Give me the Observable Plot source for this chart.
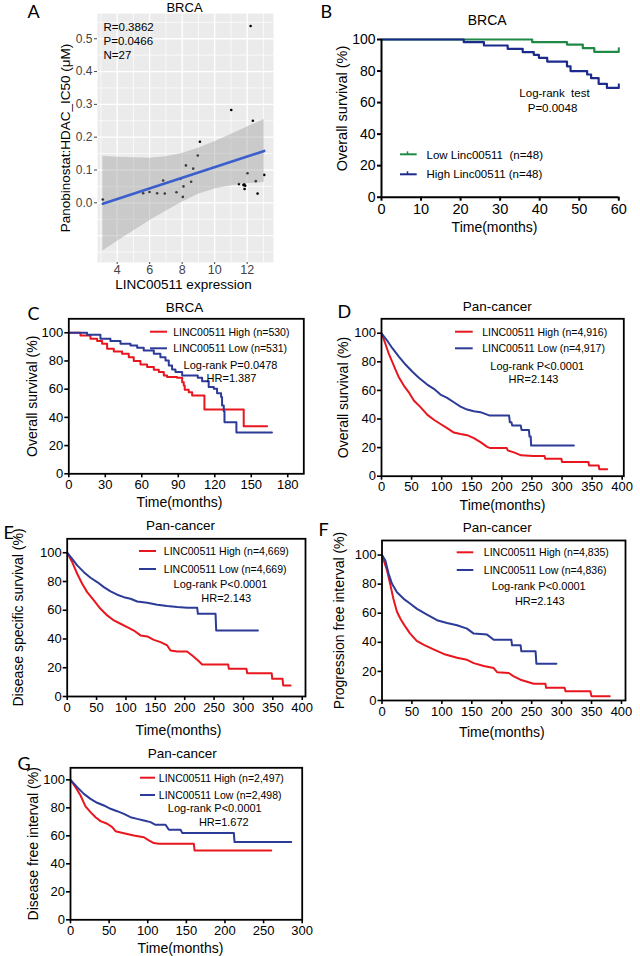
<!DOCTYPE html>
<html><head><meta charset="utf-8">
<script src="https://cdn.jsdelivr.net/npm/d3@7"></script>
<script src="https://cdn.jsdelivr.net/npm/@observablehq/plot@0.6"></script>
<style>
body{margin:0;background:#fff;}
#root{position:relative;width:640px;height:956px;overflow:hidden;background:#fff;}
#root svg{position:absolute;overflow:visible;background:transparent;}
</style></head><body><div id="root"></div>
<script>
const FONT = '"Liberation Sans", Arial, Helvetica, sans-serif';
const LETTER_FONT = 'Lato, "Open Sans", sans-serif';
const RED = "#E8161E";
const BLUE = "#2C3B97";
const B_GREEN = "#1F8A46";
const B_BLUE = "#1B2A8C";

// ---------- Panel A data ----------
const aExpr = [3.12, 5.60, 5.99, 6.46, 6.83, 6.93, 7.65, 8.04, 8.08, 7.90, 8.23, 8.55, 8.68, 8.96, 9.09,
               11.02, 12.21, 12.35, 11.49, 11.82, 11.88, 11.77, 11.84, 12.02, 12.53, 12.64, 13.05];
const aIC50 = [0.010, 0.029, 0.033, 0.029, 0.068, 0.028, 0.032, 0.018, 0.050, 0.073, 0.114, 0.064, 0.104, 0.144, 0.186,
               0.283, 0.539, 0.250, 0.057, 0.056, 0.052, 0.054, 0.042, 0.090, 0.066, 0.028, 0.085];
const aFitX = [3.12, 13.05];
const aFitY = [-0.003, 0.158];
const aBandX = [3.12, 4, 5, 6, 7, 8, 9, 10, 11, 12, 13.05];
const aBandHigh = [0.142, 0.139, 0.137, 0.136, 0.140, 0.150, 0.166, 0.186, 0.208, 0.231, 0.254];
const aBandLow = [-0.147, -0.118, -0.086, -0.055, -0.026, 0.002, 0.026, 0.042, 0.052, 0.058, 0.062];
const aYTicks = [0, 0.1, 0.2, 0.3, 0.4, 0.5];
const aYTickLabels = ["0.0", "0.1", "0.2", "0.3", "0.4", "0.5"];
const aXTicks = [4, 6, 8, 10, 12];
const aGridMajorY = [-0.1, 0, 0.1, 0.2, 0.3, 0.4, 0.5];
const aGridMinorY = [-0.15, -0.05, 0.05, 0.15, 0.25, 0.35, 0.45, 0.55];
const aGridMinorX = [3, 5, 7, 9, 11, 13];
const aStats = ["R=0.3862", "P=0.0466", "N=27"];

// ---------- Panel B data (time, survival %) ----------
const bLow = [[0,100],[38.1,98.3],[46.9,96.8],[50.9,94.5],[53.8,92.2],[60,92.2]];
const bHigh = [[0,100],[20.8,98.3],[25.9,96.2],[31.9,94.1],[35.7,92],[38.5,90.3],[39.8,88.4],[41.9,86],
               [46.9,83],[47.8,80],[52,77.8],[53,75.5],[54.9,71.9],[57,69.3],[60,69.3]];
const bXTicks = [0, 10, 20, 30, 40, 50, 60];
const bLegend = ["Low Linc00511  (n=48)", "High Linc00511 (n=48)"];
const bStats = ["Log-rank  test", "P=0.0048"];

// ---------- Panels C-G data ----------
const kmYTicks = [0, 20, 40, 60, 80, 100];
const cXTicks = [0, 30, 60, 90, 120, 150, 180];
const dXTicks = [0, 50, 100, 150, 200, 250, 300, 350, 400];
const gXTicks = [0, 50, 100, 150, 200, 250, 300];

// C: step points (time, survival after the step)
const cHigh = [[0,100],[9.6,98.1],[17.8,95.7],[23.3,94.1],[27.4,92.2],[31.5,88.7],[37,86.8],[43.8,85.1],[49.3,82.7],
  [53.4,79.9],[58.9,77.5],[64.4,75.7],[69.9,73.8],[74,72.1],[78.1,69.7],[80.8,68.6],[89,68.1],[93.2,65],[94.5,62.6],
  [95.3,59.6],[98.6,57.9],[101.4,55.6],[111.5,45.6],[143.8,33.8],[163,33.8]];
const cLow = [[0,100],[15,98.6],[26,95.7],[34.2,94.1],[42.5,92.2],[50.7,91],[56.2,89.4],[61.6,87.5],[69.9,85.1],
  [75.3,82.7],[79.5,80.4],[82.2,76.8],[84.9,74],[87.7,72.1],[93.2,69.7],[106,68.1],[109.6,65.7],[115,61.5],[119.2,60.3],
  [121.9,57.2],[125.2,54.4],[126,48.5],[127.4,44.4],[128,36.6],[137.8,29.3],[167,29.3]];
const cLegend = ["LINC00511 High (n=530)", "LINC00511 Low (n=531)"];
const cStats = ["Log-rank P=0.0478", "HR=1.387"];

// D-G: curve vertices (time, survival %)
const dHigh = [[0,100],[6.6,92.5],[12.2,85.5],[20.5,77.4],[28.8,69.2],[37.1,63.4],[45.4,58.7],[53.7,52.9],[64.8,48.3],
  [75.9,43.1],[87,39.5],[98,36.5],[109.1,33.6],[120.2,30.5],[131.3,29.5],[142.4,28.7],[153.5,26.6],[164.5,23.8],
  [175.6,20.5],[180,19.8],[208,19.8],[209.8,18.1],[221,16.5],[232,14.6],[252,14.1],[271,14.1],[272,12.2],[299,12.2],
  [300,9.9],[344,9.9],[345,7.5],[361,7.5],[362,4.9],[375,4.9]];
const dLow = [[0,100],[9.4,94.9],[17.7,89.7],[28.8,83.7],[39.9,78.1],[51,73.2],[62,68.8],[75.9,64.1],[87,61.1],
  [98,57.1],[109.1,54.8],[120.2,51.7],[131.3,48.7],[142.4,46.6],[153.5,45.5],[164.5,44.8],[175.6,43.1],[180,42.4],
  [212,42.4],[213.3,37.8],[216,37.8],[217.2,35.4],[231.5,35.4],[232.7,32.4],[245,32.4],[246,27.7],[248,27.7],
  [248.7,21.4],[319.7,21.4]];
const dLegend = ["LINC00511 High (n=4,916)", "LINC00511 Low (n=4,917)"];
const dStats = ["Log-rank P<0.0001", "HR=2.143"];

const eHigh = [[0,100],[8.5,93.5],[17,85.4],[25.5,78.4],[34,72.6],[45.4,66.8],[56.7,61],[68.1,56.4],[79.4,52.9],
  [90.8,50.6],[102.1,48.3],[113.5,45.9],[124.8,42.5],[136.2,41.8],[147.5,39.4],[158.9,37.8],[170.2,35.5],[175.9,32],
  [187.2,31.3],[204,31.3],[212.8,28.5],[221.3,25.5],[229.8,22.3],[274,22.3],[275.2,19.3],[305,19.3],[306.4,16.2],
  [348,16.2],[349,12.3],[366.5,12.3],[367.7,7.7],[380.2,7.7]];
const eLow = [[0,100],[8.5,95.8],[17,91.2],[28.4,86.5],[39.7,82.6],[51,79.6],[62.4,76.1],[73.8,73.1],[85.1,70.8],
  [96.5,69.1],[107.8,68],[119.2,66.1],[136.2,65.2],[153.2,63.8],[170.2,62.9],[187.2,62.2],[204.3,61.7],[221.3,61.7],
  [222.4,57.5],[252.5,57.5],[253.6,45.9],[324.6,45.9]];
const eLegend = ["LINC00511 High (n=4,669)", "LINC00511 Low (n=4,669)"];
const eStats = ["Log-rank P<0.0001", "HR=2.143"];

const fHigh = [[0,100],[8,90],[14,79.5],[19,70],[25,61],[31,56],[37,52],[47,46],[58,41],[70,38.2],[86,35.2],[103,32],
  [125.3,29.4],[142,28],[153.2,25.7],[169.9,23.7],[186.6,22.3],[192.2,19.5],[211.7,18.9],[220,16.6],[231.2,14.3],
  [253.4,11.5],[273,11.5],[274,8.7],[305,8.7],[306.4,6.4],[348,6.4],[349.8,3],[380.4,3]];
const fLow = [[0,100],[5.6,96.2],[11.1,87.1],[16.7,80.2],[25,74.4],[36.2,69.9],[47.3,66.5],[58.5,63],[75.2,59],
  [91.9,55.2],[108.6,53.3],[125.3,51.7],[142,49.4],[153.2,46],[175.5,45.3],[186.6,41.8],[216,41.8],[217.2,37.9],
  [231.5,37.9],[232.8,33.8],[256.5,33.8],[257.9,25.3],[291.3,25.3]];
const fLegend = ["LINC00511 High (n=4,835)", "LINC00511 Low (n=4,836)"];
const fStats = ["Log-rank P<0.0001", "HR=2.143"];

const gHigh = [[0,100],[6.5,94.8],[13,88.8],[19.4,81],[25.9,76.9],[32.4,73.3],[38.9,70.5],[47.5,68.6],[54,66.2],
  [58.3,63.3],[69.1,61.9],[82,60.2],[95,59],[101.4,56.7],[107.9,54.8],[114.4,54.3],[159.7,54.3],[160.6,49.5],[259.9,49.5]];
const gLow = [[0,100],[8.6,94.8],[17.3,90],[25.9,86.4],[34.5,83.6],[43.2,81.7],[51.8,79.3],[60.4,77.6],[69.1,75.7],
  [77.7,73.3],[86.3,72.1],[95,71],[103.6,69.8],[110.1,67.9],[123,67.9],[127.4,64.3],[142.5,64.3],[144.6,62.1],
  [211.5,62.1],[212.4,55.5],[285.8,55.5]];
const gLegend = ["LINC00511 High (n=2,497)", "LINC00511 Low (n=2,498)"];
const gStats = ["Log-rank P<0.0001", "HR=1.672"];

const timeTitle = "Time(months)";

// ---------- helpers ----------
const rows = arr => arr.map(([t, s]) => ({t, s}));
const root = document.getElementById("root");

function margins(box, frame) {
  return {marginLeft: frame.l - box.x, marginRight: box.x + box.w - frame.r,
          marginTop: frame.t - box.y, marginBottom: box.y + box.h - frame.b};
}
function ann(frame, text, x, y, o = {}) {
  return Plot.text([text], {
    frameAnchor: "top-left", dx: x - frame.l, dy: y - frame.t, text: d => d,
    textAnchor: o.anchor ?? "middle", lineAnchor: "middle",
    fontSize: o.size ?? 11, fontFamily: o.family ?? FONT, rotate: o.rotate ?? 0,
    fill: o.fill ?? "black", fontWeight: o.weight ?? "normal"
  });
}
function place(svg, box) {
  svg.style.left = box.x + "px"; svg.style.top = box.y + "px";
  root.appendChild(svg);
}
function addLine(svg, box, x1, x2, y, color, width) {
  d3.select(svg).append("line")
    .attr("x1", x1 - box.x).attr("x2", x2 - box.x)
    .attr("y1", y - box.y).attr("y2", y - box.y)
    .attr("stroke", color).attr("stroke-width", width);
}

// ---------- Panel A ----------
{
  const box = {x: 0, y: 0, w: 320, h: 290};
  const frame = {l: 97, r: 273, t: 13, b: 262};
  const pts = aExpr.map((x, i) => ({x, y: aIC50[i]}));
  const band = aBandX.map((x, i) => ({x, lo: aBandLow[i], hi: aBandHigh[i]}));
  const fit = aFitX.map((x, i) => ({x, y: aFitY[i]}));
  const svg = Plot.plot({
    width: box.w, height: box.h, ...margins(box, frame),
    x: {domain: [2.79, 13.62], label: null},
    y: {domain: [-0.182, 0.577], label: null},
    style: {fontFamily: FONT, background: "transparent", overflow: "visible"},
    marks: [
      Plot.frame({fill: "#EBEBEB", stroke: "none"}),
      Plot.ruleY(aGridMinorY, {stroke: "white", strokeWidth: 0.7}),
      Plot.ruleX(aGridMinorX, {stroke: "white", strokeWidth: 0.7}),
      Plot.ruleY(aGridMajorY, {stroke: "white", strokeWidth: 1.3}),
      Plot.ruleX(aXTicks, {stroke: "white", strokeWidth: 1.3}),
      Plot.dot(pts, {x: "x", y: "y", r: 1.3, fill: "black", stroke: "none"}),
      Plot.areaY(band, {x: "x", y1: "lo", y2: "hi", fill: "#999999", fillOpacity: 0.4}),
      Plot.line(fit, {x: "x", y: "y", stroke: "#3A5FCD", strokeWidth: 2.6}),
      Plot.axisY(aYTicks, {tickSize: 3, tickPadding: 2, fontSize: 12, color: "#444",
        tickFormat: d => aYTickLabels[aYTicks.indexOf(d)], label: null}),
      Plot.axisX(aXTicks, {tickSize: 2, tickPadding: 0.5, fontSize: 12.5, color: "#444", label: null}),
      ann(frame, "BRCA", 184, 7.5, {size: 13}),
      ...aStats.map((s, i) => ann(frame, s, 103, [26.7, 41, 54.7][i], {anchor: "start", size: 11.5})),
      ann(frame, "LINC00511 expression", 183, 284, {size: 13.5}),
      ann(frame, "Panobinostat:HDAC_IC50 (μM)", 65, 137.5, {size: 13.5, rotate: -90}),
      ann(frame, "A", 27, 12, {anchor: "start", size: 18, family: LETTER_FONT})
    ]
  });
  place(svg, box);
}

// ---------- Panel B ----------
{
  const box = {x: 320, y: 0, w: 320, h: 290};
  const frame = {l: 381, r: 618.3, t: 39, b: 196.7};
  const low = rows(bLow), high = rows(bHigh);
  const svg = Plot.plot({
    width: box.w, height: box.h, ...margins(box, frame),
    x: {domain: [0, 60], label: null},
    y: {domain: [0, 100], label: null},
    style: {fontFamily: FONT, background: "transparent", overflow: "visible"},
    marks: [
      Plot.line(low, {x: "t", y: "s", curve: "step-after", stroke: B_GREEN, strokeWidth: 2.2}),
      Plot.line(high, {x: "t", y: "s", curve: "step-after", stroke: B_BLUE, strokeWidth: 2.2}),
      Plot.ruleX(low.slice(-1), {x: "t", y1: "s", y2: d => d.s + 2.5, stroke: B_GREEN, strokeWidth: 2}),
      Plot.ruleX(high.slice(-1), {x: "t", y1: "s", y2: d => d.s + 2.5, stroke: B_BLUE, strokeWidth: 2}),
      Plot.ruleX([0], {stroke: "black", strokeWidth: 2}),
      Plot.ruleY([0], {stroke: "black", strokeWidth: 2}),
      Plot.axisX(bXTicks, {tickSize: 4, tickPadding: 3, fontSize: 14.5, strokeWidth: 2, color: "black", label: null}),
      Plot.axisY(kmYTicks, {tickSize: 4, tickPadding: 2, fontSize: 14, strokeWidth: 2, color: "black", label: null}),
      ann(frame, "BRCA", 486.7, 20, {size: 14}),
      ann(frame, bLegend[0], 426, 154.5, {anchor: "start", size: 11.5}),
      ann(frame, bLegend[1], 426, 174.3, {anchor: "start", size: 11.5}),
      ann(frame, bStats[0], 554, 93, {size: 11.5}),
      ann(frame, bStats[1], 552, 108.3, {size: 11.5}),
      ann(frame, timeTitle, 494, 227, {size: 14}),
      ann(frame, "Overall survival (%)", 342, 108, {size: 14.5, rotate: -90}),
      ann(frame, "B", 320, 11.5, {anchor: "start", size: 18, family: LETTER_FONT})
    ]
  });
  addLine(svg, box, 400, 416.7, 154.3, B_GREEN, 2);
  addLine(svg, box, 400, 416.7, 174.3, B_BLUE, 2);
  d3.select(svg).append("line").attr("x1", 407.5 - box.x).attr("x2", 407.5 - box.x)
    .attr("y1", 154.3 - box.y).attr("y2", 151.3 - box.y).attr("stroke", B_GREEN).attr("stroke-width", 1.5);
  d3.select(svg).append("line").attr("x1", 407.5 - box.x).attr("x2", 407.5 - box.x)
    .attr("y1", 174.3 - box.y).attr("y2", 171.3 - box.y).attr("stroke", B_BLUE).attr("stroke-width", 1.5);
  place(svg, box);
}

// ---------- Panels C-G ----------
const kmPanels = [
  {letter: "C", letterPos: [27, 313.5], box: {x: 0, y: 290, w: 320, h: 225}, frame: {l: 68.3, r: 303.3, t: 318.3, b: 473.3},
   xDomain: [0, 193.2], yDomain: [0, 109.9], xTicks: cXTicks, high: cHigh, low: cLow, curve: "step-after",
   title: "BRCA", titlePos: [184, 306.7], sw: [150, 167], tx: 172.7, ly: [331.7, 348.3], legend: cLegend,
   stats: cStats, statsPos: [[230, 365], [231, 378.3]], xTitlePos: [179, 502],
   yTitle: "Overall survival (%)", yTitlePos: [32, 395.8]},
  {letter: "D", letterPos: [337, 311.5], box: {x: 320, y: 290, w: 320, h: 225}, frame: {l: 381, r: 623.3, t: 318.3, b: 475.7},
   xDomain: [0, 402.7], yDomain: [0, 110.1], xTicks: dXTicks, high: dHigh, low: dLow, curve: "linear",
   title: "Pan-cancer", titlePos: [496.7, 306], sw: [455, 472.7], tx: 481.7, ly: [331.7, 348.3], legend: dLegend,
   stats: dStats, statsPos: [[536.7, 366], [533, 379.3]], xTitlePos: [502, 505],
   yTitle: "Overall survival (%)", yTitlePos: [343.3, 397]},
  {letter: "E", letterPos: [3, 532.5], box: {x: 0, y: 515, w: 320, h: 225}, frame: {l: 66.7, r: 305, t: 538.3, b: 696},
   xDomain: [0, 405.6], yDomain: [0, 109.7], xTicks: dXTicks, high: eHigh, low: eLow, curve: "linear",
   title: "Pan-cancer", titlePos: [180, 525], sw: [139, 156], tx: 163.3, ly: [551, 569], legend: eLegend,
   stats: eStats, statsPos: [[220, 584], [225.7, 598.3]], xTitlePos: [178, 730],
   yTitle: "Disease specific survival (%)", yTitlePos: [18, 617]},
  {letter: "F", letterPos: [318, 530], box: {x: 320, y: 515, w: 320, h: 225}, frame: {l: 381.5, r: 625, t: 540, b: 700},
   xDomain: [0, 406.7], yDomain: [0, 110], xTicks: dXTicks, high: fHigh, low: fLow, curve: "linear",
   title: "Pan-cancer", titlePos: [496.7, 526.7], sw: [456.7, 473.3], tx: 483.3, ly: [552.3, 570], legend: fLegend,
   stats: fStats, statsPos: [[538.3, 586], [539.3, 601]], xTitlePos: [501.3, 731.7],
   yTitle: "Progression free interval (%)", yTitlePos: [339, 620]},
  {letter: "G", letterPos: [17, 763.5], box: {x: 0, y: 740, w: 320, h: 216}, frame: {l: 70, r: 301.7, t: 767.3, b: 919.3},
   xDomain: [0, 300], yDomain: [0, 108.6], xTicks: gXTicks, high: gHigh, low: gLow, curve: "linear",
   title: "Pan-cancer", titlePos: [181.7, 753.3], sw: [140, 155], tx: 158.3, ly: [777.7, 795], legend: gLegend,
   stats: gStats, statsPos: [[214.3, 808.3], [223.3, 821.7]], xTitlePos: [180, 948.3],
   yTitle: "Disease free interval (%)", yTitlePos: [33.3, 843.3]}
];

for (const p of kmPanels) {
  const {box, frame} = p;
  const svg = Plot.plot({
    width: box.w, height: box.h, ...margins(box, frame),
    x: {domain: p.xDomain, label: null},
    y: {domain: p.yDomain, label: null},
    style: {fontFamily: FONT, background: "transparent", overflow: "visible"},
    marks: [
      Plot.line(rows(p.high), {x: "t", y: "s", curve: p.curve, stroke: RED, strokeWidth: 2}),
      Plot.line(rows(p.low), {x: "t", y: "s", curve: p.curve, stroke: BLUE, strokeWidth: 2}),
      Plot.frame({stroke: "black", strokeWidth: 1.8}),
      Plot.axisX(p.xTicks, {tickSize: 4, tickPadding: 2, fontSize: 13, strokeWidth: 1.6, color: "black", label: null}),
      Plot.axisY(kmYTicks, {tickSize: 4, tickPadding: 1.5, fontSize: 13, strokeWidth: 1.6, color: "black", label: null}),
      ann(frame, p.title, p.titlePos[0], p.titlePos[1], {size: 13.5}),
      ann(frame, p.legend[0], p.tx, p.ly[0], {anchor: "start", size: 10.5}),
      ann(frame, p.legend[1], p.tx, p.ly[1], {anchor: "start", size: 10.5}),
      ann(frame, p.stats[0], p.statsPos[0][0], p.statsPos[0][1], {size: 11}),
      ann(frame, p.stats[1], p.statsPos[1][0], p.statsPos[1][1], {size: 11}),
      ann(frame, timeTitle, p.xTitlePos[0], p.xTitlePos[1], {size: 14}),
      ann(frame, p.yTitle, p.yTitlePos[0], p.yTitlePos[1], {size: 14, rotate: -90}),
      ann(frame, p.letter, p.letterPos[0], p.letterPos[1], {anchor: "start", size: 18, family: LETTER_FONT})
    ]
  });
  addLine(svg, box, p.sw[0], p.sw[1], p.ly[0], RED, 2);
  addLine(svg, box, p.sw[0], p.sw[1], p.ly[1], BLUE, 2);
  place(svg, box);
}
</script>
</body></html>
